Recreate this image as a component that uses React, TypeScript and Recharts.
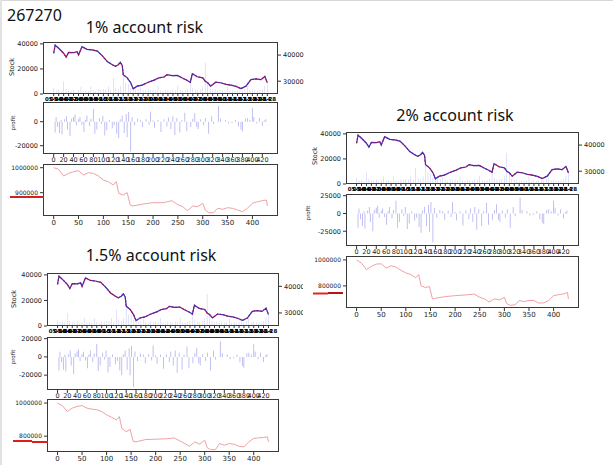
import React from "react";
import { Bar, ComposedChart, Line, XAxis, YAxis } from "recharts";

// x tick labels of the price panel (an unreadable blob in the source, one per 10 trading days)
const dateTicks = [
  0, 10, 20, 30, 40, 50, 60, 70, 80, 90, 100, 110, 120, 130, 140, 150, 160, 170, 180, 190, 200, 210,
  220, 230, 240, 250, 260, 270, 280, 290, 300, 310, 320, 330, 340, 350, 360, 370, 380, 390, 400, 410,
  420, 430,
];
const dateLabels = [
  "05-10", "05-24", "06-08", "06-22", "07-06", "07-20", "08-03", "08-18", "09-01", "09-15", "09-29",
  "10-18", "11-01", "11-15", "11-29", "12-13", "12-27", "01-11", "01-25", "02-08", "02-26", "03-12",
  "03-26", "04-09", "04-23", "05-09", "05-24", "06-08", "06-22", "07-06", "07-20", "08-03", "08-20",
  "09-03", "09-17", "10-04", "10-18", "11-01", "11-15", "11-29", "12-13", "12-28", "01-14", "01-28",
];
const profitTicks = [0, 20, 40, 60, 80, 100, 120, 140, 160, 180, 200, 220, 240, 260, 280, 300, 320, 340, 360, 380, 400, 420];
const equityXTicks = [0, 50, 100, 150, 200, 250, 300, 350, 400];

// stock price (right axis)
const priceDays = [
  0, 3, 10, 20, 25, 30, 40, 47, 50, 57, 67, 77, 88, 98, 108, 118, 124, 130, 134, 138, 140, 148, 155,
  160, 168, 178, 188, 202, 212, 222, 228, 238, 249, 259, 269, 275, 279, 289, 300, 305, 310, 316, 326,
  336, 347, 357, 367, 377, 387, 397, 407, 417, 425, 430,
];
const price = [
  40700, 43800, 42600, 40700, 39200, 41000, 40900, 41300, 40000, 43200, 42200, 42000, 41500, 39700,
  37500, 36300, 35700, 36300, 37200, 36000, 32500, 31300, 29400, 27100, 28100, 28500, 29400, 30400,
  31300, 31600, 32500, 32100, 32200, 31200, 30300, 29600, 32900, 31700, 31300, 30000, 29400, 28100,
  29600, 29400, 28800, 28500, 28000, 27200, 28100, 30600, 30900, 30600, 31800, 29400,
];

// volume bars (left axis)
const volumeDays = [
  0, 5, 10, 15, 20, 25, 30, 35, 40, 45, 50, 55, 60, 65, 70, 75, 80, 85, 90, 95, 100, 105, 110, 115,
  120, 125, 130, 135, 140, 145, 150, 155, 160, 165, 170, 175, 180, 185, 190, 195, 200, 205, 210, 215,
  220, 225, 230, 235, 240, 245, 250, 255, 260, 265, 270, 275, 280, 285, 290, 295, 300, 305, 310, 315,
  320, 325, 330, 335, 340, 345, 350, 355, 360, 365, 370, 375, 380, 385, 390, 395, 400, 405, 410, 415,
  420, 425, 430,
];
const volume = [
  4500, 3000, 3500, 2500, 10000, 4000, 3000, 2500, 3500, 2000, 3000, 6000, 2500, 3000, 2500, 6000,
  3000, 2500, 3500, 3000, 4000, 3500, 6000, 3000, 12800, 5000, 4000, 6000, 17400, 9000, 8000, 5000,
  4500, 3500, 4000, 6000, 3000, 2500, 4000, 3000, 3500, 2500, 6000, 3000, 2500, 3500, 3000, 2500,
  3500, 3000, 6500, 3000, 2500, 3000, 4000, 11400, 5000, 3500, 3000, 4000, 6000, 25000, 8000, 4000,
  3000, 3500, 2500, 3000, 2500, 3000, 6000, 2500, 3000, 2500, 3000, 3500, 2500, 4000, 6000, 3000,
  3500, 3000, 2500, 3000, 4000, 6500, 9000,
];

// profit per trade
const tradeDays = [
  3, 5, 8, 12, 15, 17, 22, 26, 28, 33, 36, 40, 43, 46, 50, 53, 57, 61, 64, 67, 72, 75, 80, 83, 87, 92,
  96, 99, 103, 107, 112, 118, 122, 127, 131, 134, 138, 142, 146, 148, 151, 155, 158, 163, 169, 175,
  179, 186, 192, 195, 200, 203, 210, 216, 222, 228, 231, 236, 240, 244, 248, 254, 258, 264, 268, 276,
  280, 284, 288, 291, 296, 302, 306, 312, 318, 322, 332, 336, 346, 352, 359, 366, 372, 377, 380, 386,
  390, 395, 400, 403, 409, 414, 420, 424, 427,
];
const profit1 = [
  -9000, 4000, -4500, -9500, 1500, -10500, 2000, 4500, -6500, -12000,
  2500, 4000, 6000, -3000, 2000, 4000, -2500, -8500, 1500, 5000,
  -3500, 2500, 10500, -10000, -6500, 3000, -2000, 5000, -11500, -7000,
  1500, -5500, -3000, -10000, -13500, 2000, 5000, -9500, 6500, -13000,
  8000, -24800, 4000, -3000, 2500, 1500, -4500, 2000, -2500, 8500,
  1000, -5000, 1500, -8500, 2000, -4000, 3500, -6000, 4500, -11000,
  3000, -9000, 1500, 7500, -8000, -4500, 2500, 7000, -4500, -6000,
  2000, -3000, 3000, -10000, 4500, -2000, 13000, 2500, 1500, -1500,
  -1000, 1500, -4000, -6500, -8000, 2500, 3000, 1500, 11500, 4000,
  -1500, 3000, -3500, 1000, 2000,
];
const profit2 = [
  -20000, 7000, -8000, -18000, 3000, -21000, 4000, 9000, -12000, -25000,
  5000, 8000, 11000, -6000, 4000, 7000, -5000, -16000, 3000, 9000,
  -7000, 5000, 18000, -20000, -12000, 6000, -4000, 9000, -22000, -14000,
  3000, -10000, -6000, -19000, -27000, 4000, 9000, -18000, 12000, -26000,
  16000, -41000, 8000, -6000, 5000, 3000, -9000, 4000, -5000, 16000,
  2000, -10000, 3000, -17000, 4000, -8000, 7000, -12000, 9000, -23000,
  6000, -18000, 3000, 15000, -16000, -9000, 5000, 13000, -9000, -12000,
  4000, -6000, 6000, -20000, 9000, -4000, 22000, 5000, 3000, -3000,
  -2000, 3000, -8000, -13000, -15000, 5000, 6000, 3000, 18000, 8000,
  -3000, 6000, -7000, 2000, 4000,
];
const profit15 = [
  -15000, 5500, -6000, -14000, 2500, -16000, 3000, 7000, -9500, -19000,
  4000, 6000, 8500, -4500, 3000, 5500, -4000, -12500, 2500, 7000,
  -5500, 4000, 14000, -15500, -9500, 4500, -3000, 7000, -17000, -11000,
  2500, -8000, -4500, -15000, -20000, 3000, 7000, -14000, 9500, -20000,
  12000, -33000, 6000, -4500, 4000, 2500, -7000, 3000, -4000, 12500,
  1500, -7500, 2500, -13000, 3000, -6000, 5500, -9500, 7000, -17500,
  4500, -14000, 2500, 11500, -12500, -7000, 4000, 10000, -7000, -9500,
  3000, -4500, 4500, -15000, 7000, -3000, 17000, 4000, 2500, -2500,
  -1500, 2500, -6000, -10000, -12000, 4000, 4500, 2500, 14500, 6000,
  -2500, 4500, -5500, 1500, 3000,
];

// account equity
const equityDays = [
  0, 10, 20, 30, 40, 50, 60, 70, 80, 90, 100, 110, 120, 126, 131, 140, 148, 154, 160, 180, 200, 220,
  238, 250, 260, 269, 280, 290, 300, 305, 312, 322, 330, 340, 350, 360, 370, 380, 390, 400, 410, 420,
  428, 430,
];
const equity1 = [
  1000000, 993600, 966800, 977600, 984000, 988000, 970800, 980000, 977600, 966800, 950800, 944000,
  930800, 944000, 897600, 890800, 900000, 850800, 846800, 854800, 860000, 860000, 868000, 852000,
  844000, 828000, 846800, 844000, 857600, 830800, 820000, 820000, 837600, 833600, 840000, 837600,
  830800, 824000, 837600, 857600, 864000, 868000, 870800, 846800,
];
const equity2 = [
  1000000, 975000, 925000, 950000, 967500, 970000, 937500, 955000, 945000, 920000, 900000, 887500,
  862500, 887500, 800000, 787500, 795000, 700000, 705000, 717500, 725000, 730000, 737500, 712500,
  700000, 675000, 700000, 692500, 712500, 662500, 650000, 655000, 687500, 680000, 687500, 687500,
  667500, 670000, 687500, 725000, 732500, 737500, 750000, 700000,
];
const equity15 = [
  1000000, 983700, 949000, 969400, 979600, 985000, 969400, 963300, 959200, 949000, 928600, 914300,
  898000, 918400, 847000, 826600, 840900, 769500, 765400, 779700, 781700, 783800, 789000, 770000,
  755200, 738900, 765400, 751100, 775600, 730700, 718500, 718500, 755200, 745000, 755200, 751100,
  738900, 734800, 765400, 785800, 789900, 791900, 796000, 765400,
];

const FONT = "'DejaVu Sans', sans-serif";
const X_DOMAIN: [number, number] = [-21.5, 451.5];
const LW = 44;
const RW = 30;
const MT = 6;
const XH = 14;
const tickStyle = { fontSize: 6.5, fill: "#222", fontFamily: FONT };
const tickLine = { stroke: "#333" };

function table(cols: Record<string, [number[], number[]]>) {
  const rows = new Map<number, Record<string, number>>();
  for (const [key, [days, vals]] of Object.entries(cols)) {
    days.forEach((d, k) => {
      const row = rows.get(d) ?? { i: d };
      row[key] = vals[k];
      rows.set(d, row);
    });
  }
  return [...rows.values()].sort((a, b) => a.i - b.i);
}

const priceData = table({ price: [priceDays, price], vol: [volumeDays, volume] });

function Frame({ x, y, w, h }: { x: number; y: number; w: number; h: number }) {
  return (
    <div
      style={{
        position: "absolute",
        left: x,
        top: y,
        width: w,
        height: h,
        border: "1px solid #3a3a3a",
        boxSizing: "border-box",
        pointerEvents: "none",
      }}
    />
  );
}

function PricePanel({ x, y, w, h }: { x: number; y: number; w: number; h: number }) {
  return (
    <>
      <div style={{ position: "absolute", left: x - LW, top: y - MT }}>
        <ComposedChart
          width={LW + w + RW}
          height={MT + h + XH}
          data={priceData}
          margin={{ top: MT, right: 0, bottom: 0, left: 0 }}
        >
          <XAxis
            dataKey="i"
            type="number"
            domain={X_DOMAIN}
            allowDataOverflow
            ticks={dateTicks}
            interval={0}
            tickFormatter={(v) => dateLabels[dateTicks.indexOf(v)]}
            height={XH}
            axisLine={false}
            tickLine={tickLine}
            tickSize={2}
            tickMargin={1}
            tick={{ fontSize: 5.5, fill: "#000", fontFamily: FONT, fontWeight: "bold" }}
          />
          <YAxis
            yAxisId="vol"
            domain={[0, 41500]}
            ticks={[0, 20000, 40000]}
            width={LW}
            axisLine={false}
            tickLine={tickLine}
            tickSize={3}
            tickMargin={2}
            tick={tickStyle}
          />
          <YAxis
            yAxisId="price"
            orientation="right"
            domain={[25100, 45000]}
            ticks={[30000, 40000]}
            width={RW}
            axisLine={false}
            tickLine={tickLine}
            tickSize={3}
            tickMargin={2}
            tick={tickStyle}
          />
          <Bar yAxisId="vol" dataKey="vol" fill="#9a9aea" fillOpacity={0.65} barSize={1} isAnimationActive={false} />
          <Line
            yAxisId="price"
            dataKey="price"
            stroke="#3030c0"
            strokeWidth={1.2}
            dot={false}
            connectNulls
            isAnimationActive={false}
          />
          <Line
            yAxisId="price"
            dataKey="price"
            stroke="#b0105a"
            strokeWidth={1.1}
            strokeDasharray="2 1.5"
            dot={false}
            connectNulls
            isAnimationActive={false}
          />
        </ComposedChart>
      </div>
      <Frame x={x} y={y} w={w} h={h} />
    </>
  );
}

function ProfitPanel(props: {
  x: number;
  y: number;
  w: number;
  h: number;
  values: number[];
  domain: [number, number];
  ticks: number[];
}) {
  const { x, y, w, h, values, domain, ticks } = props;
  const data = table({ p: [tradeDays, values] });
  return (
    <>
      <div style={{ position: "absolute", left: x - LW, top: y - MT }}>
        <ComposedChart
          width={LW + w + RW}
          height={MT + h + XH}
          data={data}
          margin={{ top: MT, right: RW, bottom: 0, left: 0 }}
        >
          <XAxis
            dataKey="i"
            type="number"
            domain={X_DOMAIN}
            allowDataOverflow
            ticks={profitTicks}
            interval={0}
            height={XH}
            axisLine={false}
            tickLine={tickLine}
            tickSize={3}
            tickMargin={0}
            tick={tickStyle}
          />
          <YAxis
            domain={domain}
            ticks={ticks}
            width={LW}
            axisLine={false}
            tickLine={tickLine}
            tickSize={3}
            tickMargin={2}
            tick={tickStyle}
          />
          <Bar dataKey="p" fill="#9a9aea" fillOpacity={0.7} barSize={1} isAnimationActive={false} />
        </ComposedChart>
      </div>
      <Frame x={x} y={y} w={w} h={h} />
    </>
  );
}

function EquityPanel(props: {
  x: number;
  y: number;
  w: number;
  h: number;
  values: number[];
  domain: [number, number];
  ticks: number[];
}) {
  const { x, y, w, h, values, domain, ticks } = props;
  const data = table({ e: [equityDays, values] });
  return (
    <>
      <div style={{ position: "absolute", left: x - LW, top: y - MT }}>
        <ComposedChart
          width={LW + w + RW}
          height={MT + h + XH}
          data={data}
          margin={{ top: MT, right: RW, bottom: 0, left: 0 }}
        >
          <XAxis
            dataKey="i"
            type="number"
            domain={X_DOMAIN}
            allowDataOverflow
            ticks={equityXTicks}
            interval={0}
            height={XH}
            axisLine={false}
            tickLine={tickLine}
            tickSize={3}
            tickMargin={1}
            tick={{ ...tickStyle, fontSize: 7 }}
          />
          <YAxis
            domain={domain}
            ticks={ticks}
            width={LW}
            axisLine={false}
            tickLine={tickLine}
            tickSize={3}
            tickMargin={2}
            tick={{ ...tickStyle, fontSize: 6 }}
          />
          <Line dataKey="e" stroke="#f0a2a6" strokeWidth={1} dot={false} isAnimationActive={false} />
        </ComposedChart>
      </div>
      <Frame x={x} y={y} w={w} h={h} />
    </>
  );
}

function Group(props: {
  x: number;
  w: number;
  tops: [number, number, number];
  h: number;
  profit: number[];
  profitDomain: [number, number];
  profitYTicks: number[];
  equity: number[];
  equityDomain: [number, number];
  equityYTicks: number[];
}) {
  const { x, w, tops, h } = props;
  return (
    <>
      <PricePanel x={x} y={tops[0]} w={w} h={h} />
      <ProfitPanel
        x={x}
        y={tops[1]}
        w={w}
        h={h}
        values={props.profit}
        domain={props.profitDomain}
        ticks={props.profitYTicks}
      />
      <EquityPanel
        x={x}
        y={tops[2]}
        w={w}
        h={h}
        values={props.equity}
        domain={props.equityDomain}
        ticks={props.equityYTicks}
      />
    </>
  );
}

export default function App() {
  return (
    <div
      style={{
        position: "absolute",
        left: 0,
        top: 0,
        width: 613,
        height: 465,
        background: "#fff",
        overflow: "hidden",
      }}
    >
      <div style={{ position: "absolute", left: 0, top: 0, width: 613, height: 1, background: "#d8d8d8" }} />
      <div style={{ position: "absolute", left: 0, top: 0, width: 2, height: 465, background: "#e2e2e2" }} />

      <Group
        x={43}
        w={235}
        tops={[42, 102, 164]}
        h={52}
        profit={profit1}
        profitDomain={[-26900, 16400]}
        profitYTicks={[-20000, 0]}
        equity={equity1}
        equityDomain={[806800, 1014800]}
        equityYTicks={[900000, 1000000]}
      />
      <Group
        x={47}
        w={232}
        tops={[273, 337, 399]}
        h={53}
        profit={profit15}
        profitDomain={[-36300, 21800]}
        profitYTicks={[-20000, 0, 20000]}
        equity={equity15}
        equityDomain={[704200, 1024500]}
        equityYTicks={[800000, 1000000]}
      />

      <div style={{ position: "absolute", left: 303, top: 95, width: 310, height: 240, background: "#fff" }} />

      <Group
        x={346}
        w={233}
        tops={[132, 194, 256]}
        h={52}
        profit={profit2}
        profitDomain={[-45800, 27400]}
        profitYTicks={[-25000, 0, 25000]}
        equity={equity2}
        equityDomain={[630000, 1030000]}
        equityYTicks={[800000, 1000000]}
      />

      <svg
        width={613}
        height={465}
        style={{ position: "absolute", left: 0, top: 0, pointerEvents: "none" }}
      >
        <g fontFamily="'Noto Sans', sans-serif" fontSize={16} fill="#111">
          <text x={7} y={21}>267270</text>
          <text x={144.5} y={33} textAnchor="middle">1% account risk</text>
          <text x={455} y={120.5} textAnchor="middle">2% account risk</text>
          <text x={151} y={260.5} textAnchor="middle">1.5% account risk</text>
        </g>
        <g fontFamily={FONT} fontSize={6.5} fill="#222" textAnchor="middle">
          <text transform="translate(12,67) rotate(-90)" dominantBaseline="central">Stock</text>
          <text transform="translate(12.5,123) rotate(-90)" dominantBaseline="central" fontSize={5.5}>profit</text>
          <text transform="translate(315,156) rotate(-90)" dominantBaseline="central">Stock</text>
          <text transform="translate(308,213) rotate(-90)" dominantBaseline="central" fontSize={5.5}>profit</text>
          <text transform="translate(14,299) rotate(-90)" dominantBaseline="central">Stock</text>
          <text transform="translate(13,357) rotate(-90)" dominantBaseline="central" fontSize={5.5}>profit</text>
        </g>
        <g strokeWidth={2}>
          <line x1={10} y1={197} x2={44} y2={197} stroke="#d42020" />
          <line x1={313} y1={293.5} x2={328} y2={293.5} stroke="#e02828" />
          <line x1={328} y1={293} x2={343} y2={293} stroke="#b01818" />
          <line x1={13} y1={441} x2={32} y2={441} stroke="#e01c1c" />
          <line x1={32} y1={442} x2={48} y2={442} stroke="#e01c1c" />
        </g>
      </svg>
    </div>
  );
}
